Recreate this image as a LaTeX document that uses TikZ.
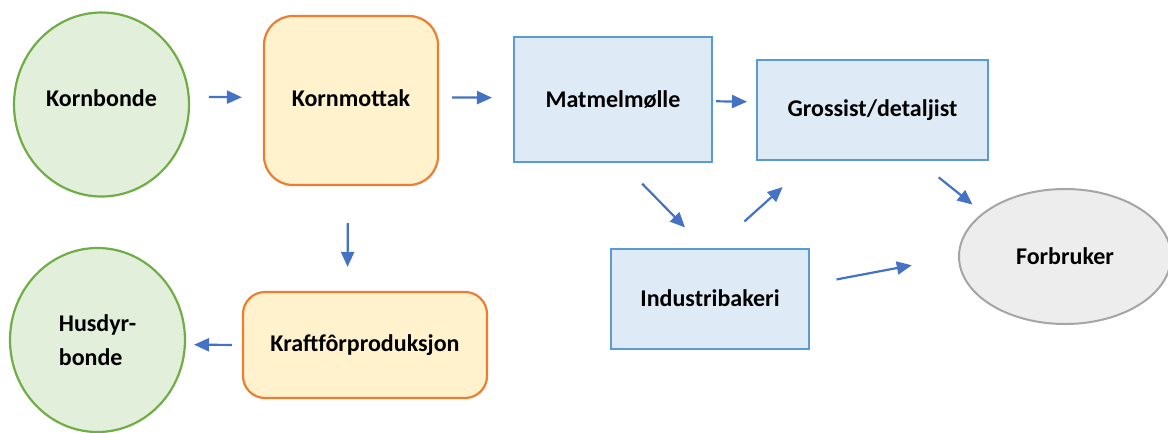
\documentclass[tikz,border=0pt]{standalone}
\usepackage{fontspec}
\setmainfont{Carlito}
\usepackage{tikz}
\usetikzlibrary{arrows.meta,shapes.geometric}

\definecolor{greenfill}{HTML}{E2EFDA}
\definecolor{greenline}{HTML}{70AD47}
\definecolor{orangefill}{HTML}{FFF2CC}
\definecolor{orangeline}{HTML}{ED7D31}
\definecolor{bluefill}{HTML}{DEEBF7}
\definecolor{blueline}{HTML}{5B9BD5}
\definecolor{greyfill}{HTML}{EDEDED}
\definecolor{greyline}{HTML}{A5A5A5}
\definecolor{arrowblue}{HTML}{4472C4}

\begin{document}
\begin{tikzpicture}[x=1pt, y=-1pt, block/.style={draw=blueline, fill=bluefill, line width=2pt, rectangle, inner sep=0pt, font=\fontsize{24}{34}\selectfont\bfseries}]
            \tikzset{farmer/.style = {ellipse, draw=greenline, fill=greenfill, line width=2.2pt, inner sep=0pt, minimum width=175pt, minimum height=184pt, align=left, font=\fontsize{24}{34}\selectfont\bfseries}}
            \tikzset{plant/.style = {rectangle, draw=orangeline, fill=orangefill, line width=2.2pt, inner sep=0pt, font=\fontsize{24}{34}\selectfont\bfseries}}
            \tikzset{edge/.style = {-{Triangle[length=15pt,width=13pt]}, draw=arrowblue, line width=2.2pt}}

            \useasboundingbox (0,0) rectangle (1168,432);

            \node[farmer, text depth=12pt] (kornbonde) at (101.5,104.5) {Kornbonde};
            \node[plant, rounded corners=29pt, minimum width=174pt, minimum height=169pt, text depth=4pt] (kornmottak) at (351,100.5) {Kornmottak};
            \node[block, minimum width=198pt, minimum height=125pt] (matmel) at (613,99.5) {Matmelmølle};
            \node[block, minimum width=231pt, minimum height=100pt] (grossist) at (872.5,110) {Grossist/detaljist};

            \node[plant, rounded corners=22pt, minimum width=244pt, minimum height=106pt] (kraft) at (365,345) {Kraftfôrproduksjon};
            \node[farmer] (husdyr) at (97.5,340) {Husdyr-\\bonde};
            \node[block, minimum width=198pt, minimum height=100pt] (indus) at (710,298.5) {Industribakeri};
            \node[ellipse, draw=greyline, fill=greyfill, line width=2pt, inner sep=0pt, minimum width=212pt, minimum height=135pt, font=\fontsize{24}{34}\selectfont\bfseries] (forbruker) at (1065,256.5) {Forbruker};

            \draw [edge, shorten <=19pt, shorten >=21pt] (kornbonde.5) to (kornmottak.178);
            \draw [edge, shorten <=13pt, shorten >=21pt] (kornmottak.2) to (matmel.179);
            \draw [edge, shorten <=37pt, shorten >=24pt] (kornmottak.-92) to (kraft.108);
            \draw [edge, shorten <=10pt, shorten >=8pt] (kraft.west) to (husdyr.-3);
            \draw [edge, shorten <=3pt, shorten >=9pt] (matmel.-1) to (grossist.176);
            \draw [edge, shorten <=29pt, shorten >=28pt] (matmel.-82) to (indus.96);
            \draw [edge, shorten <=39pt, shorten >=39pt] (indus.84) to (grossist.-140);
            \draw [edge, shorten <=26pt, shorten >=13pt] (grossist.-48) to (forbruker.152);
            \draw [edge, shorten <=27pt, shorten >=47pt] (indus.8) to (forbruker.180);

            \end{tikzpicture}
\end{document}
